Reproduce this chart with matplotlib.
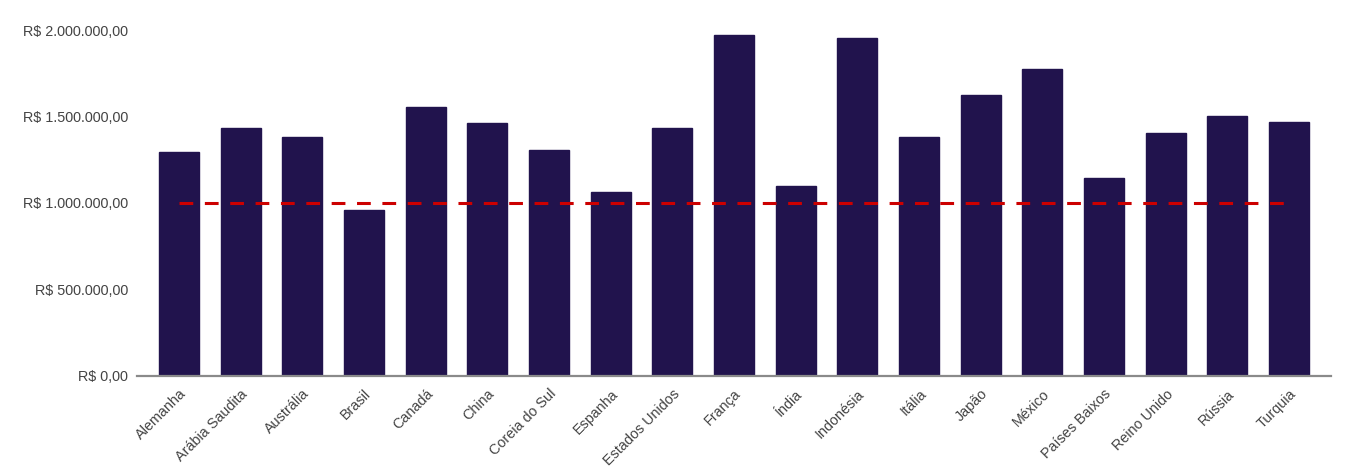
import matplotlib.pyplot as plt
from matplotlib.ticker import FuncFormatter

paises = ['Alemanha', 'Arábia Saudita', 'Austrália', 'Brasil', 'Canadá', 'China',
          'Coreia do Sul', 'Espanha', 'Estados Unidos', 'França', 'Índia', 'Indonésia',
          'Itália', 'Japão', 'México', 'Países Baixos', 'Reino Unido', 'Rússia', 'Turquia']
valores = [1297000, 1436000, 1384000, 961000, 1556000, 1463000,
           1309000, 1064000, 1434000, 1971000, 1100000, 1955000,
           1384000, 1627000, 1774000, 1143000, 1405000, 1506000, 1469000]
meta = 1000000

plt.rcParams['font.family'] = ['Liberation Sans', 'DejaVu Sans']

fig = plt.figure(figsize=(13.46, 4.69), dpi=100)
ax = fig.add_axes([0.1018, 0.199, 0.8871, 0.7364])

x = list(range(len(paises)))
ax.bar(x, valores, width=0.65, color='#21134d', edgecolor='#21134d', zorder=2)
ax.plot([x[0], x[-1]], [meta, meta], color='#cc0000', lw=2.2, dashes=(4.5, 3.8), zorder=3)

def reais(v, pos):
    s = f'{v:,.2f}'.replace(',', 'X').replace('.', ',').replace('X', '.')
    return 'R$ ' + s

ax.yaxis.set_major_formatter(FuncFormatter(reais))
ax.set_yticks([0, 500000, 1000000, 1500000, 2000000])
ax.set_ylim(0, 2000000)
ax.set_xlim(-0.68, len(paises) - 1 + 0.68)
ax.set_xticks(x)
ax.set_xticklabels(paises, rotation=45, ha='right', rotation_mode='anchor')

for s in ['top', 'right', 'left']:
    ax.spines[s].set_visible(False)
ax.spines['bottom'].set_color('#8a8a8a')
ax.spines['bottom'].set_linewidth(1.6)
ax.tick_params(axis='both', length=0, labelsize=10.4, labelcolor='#444444')
ax.tick_params(axis='y', pad=6.5)
ax.tick_params(axis='x', pad=8)

fig.savefig('out.png', dpi=100)
